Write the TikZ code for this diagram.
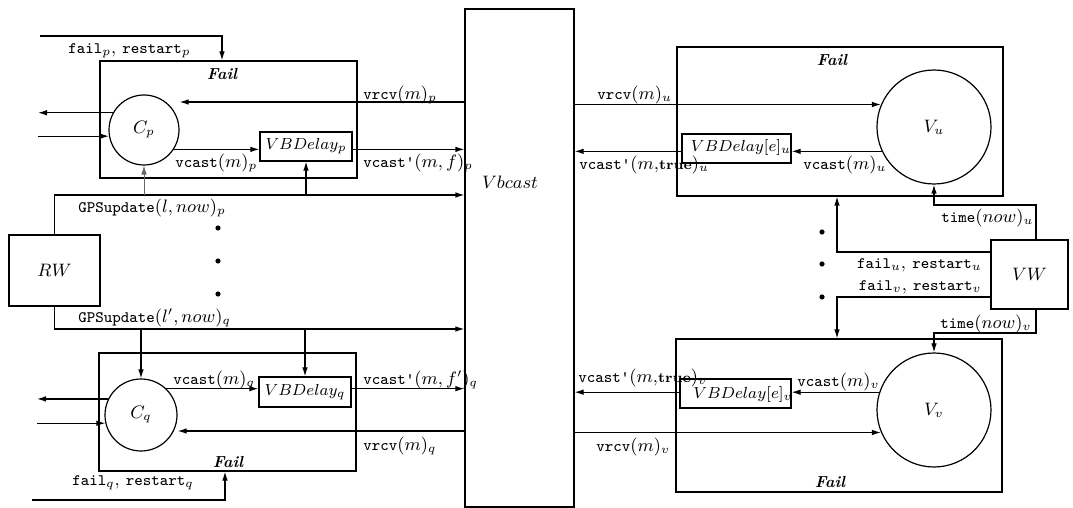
\documentclass[tikz,border=0pt]{standalone}
\usetikzlibrary{arrows.meta,fit,calc}
\newcommand\mytt[1]{{\fontsize{8}{10}\selectfont\ttfamily #1}}
\newcommand\mytrue{\textbf{\fontsize{7}{9}\selectfont true}}
\begin{document}
\begin{tikzpicture}[x=0.5pt,y=-0.5pt,
  every node/.style={font=\fontsize{9}{11}\selectfont, inner sep=0pt},
  ln/.style={line width=0.6pt},
  arr/.style={ln,-{Latex[length=4.5pt,width=2.8pt]}},
  thinarr/.style={arr,line width=0.4pt,black!60},
  boxn/.style={draw,ln,rectangle,inner sep=0pt},
  circn/.style={draw,ln,circle,inner sep=0pt},
  dotn/.style={circle,fill,minimum size=2.6pt},
  lab/.style={anchor=west},
  faillab/.style={font=\fontsize{8}{10}\selectfont\bfseries\itshape},
  elab/.style={font=\fontsize{8.3}{10}\selectfont}
]
\useasboundingbox (0,0) rectangle (1073,508);

% central broadcast box
\node[boxn, fit={(465,9) (574,507)}] (Vbcast) {};
\node (vbl) at (510,182) {$Vbcast$};

% left top
\node[boxn, fit={(100,61) (357,178)}] (Failp) {};
\node[faillab] (flp) at (222,74) {Fail};
\node[circn, minimum size=35pt] (Cp) at (144,130) {$C_p$};
\node[boxn, fit={(260,132) (352,161)}, label={[elab]center:{$VBDelay_p$}}] (VBp) {};

% RW
\node[boxn, fit={(9,235) (100,306)}, label=center:{$RW$}] (RW) {};

% left bottom
\node[boxn, fit={(99,353) (356,471)}] (Failq) {};
\node[faillab] (flq) at (228,462) {Fail};
\node[circn, minimum size=36pt] (Cq) at (141,415) {$C_q$};
\node[boxn, fit={(259,377) (351,407)}, label={[elab]center:{$VBDelay_q$}}] (VBq) {};

% right top
\node[boxn, fit={(677,47) (1003,196)}] (Failu) {};
\node[faillab] (flu) at (832,60) {Fail};
\node[circn, minimum size=57pt] (Vu) at (934,127) {$V_u$};
\node[boxn, fit={(682,134) (791,163)}] (VBu) {};
\node[elab] (VBul) at (741,148) {$VBDelay[e]_u$};

% right bottom
\node[boxn, fit={(676,339) (1002,492)}] (Failv) {};
\node[faillab] (flv) at (830,482) {Fail};
\node[circn, minimum size=57pt] (Vv) at (934,410) {$V_v$};
\node[boxn, fit={(680,379) (791,408)}] (VBv) {};
\node[elab] (VBvl) at (743,395) {$VBDelay[e]_v$};

% VW
\node[boxn, fit={(991,240) (1068,309)}, label=center:{$VW$}] (VW) {};

% free ends
\coordinate (fpin) at (40,36);
\coordinate (outp) at (38,113);
\coordinate (inp) at (38,136);
\coordinate (outq) at (37,399);
\coordinate (inq) at (37,423);
\coordinate (fqin) at (32,500);

% left top connectors
\draw[arr] (fpin) -| (Failp.north -| 222,0);
\draw[arr] (Vbcast.west |- 0,102) -- (Cp.east |- 0,102);
\draw[arr] (Cp.151) -- (Cp.151 -| outp);
\draw[arr] (inp |- Cp.190) -- (Cp.190);
\draw[arr] (Cp.-33) -- (Cp.-33 -| VBp.west);
\draw[arr] (VBp.east |- Cp.-33) -- (Cp.-33 -| Vbcast.west);
\draw[arr] (RW.north) |- (Vbcast.west |- 0,195);
\draw[thinarr] (Cp.south |- 0,195) -- (Cp.south);
\draw[arr] (VBp.south |- 0,195) -- (VBp.south);

% left bottom connectors
\draw[arr] (RW.south) |- (Vbcast.west |- 0,329);
\draw[arr] (Cq.north |- 0,329) -- (Cq.north);
\draw[arr] (VBq.north |- 0,329) -- (VBq.north);
\draw[arr] (Cq.46) -- (Cq.46 -| VBq.west);
\draw[arr] (VBq.east |- Cq.46) -- (Cq.46 -| Vbcast.west);
\draw[arr] (Cq.154) -- (Cq.154 -| outq);
\draw[arr] (inq |- Cq.193) -- (Cq.193);
\draw[arr] (Vbcast.west |- 0,431) -- (Cq.east |- 0,431);
\draw[arr] (fqin) -| (Failq.south -| 225,0);

% right connectors
\draw[arr] (Vbcast.east |- Vu.157) -- (Vu.157);
\draw[arr] (Vu.205) -- (Vu.205 -| VBu.east);
\draw[arr] (VBu.west |- Vu.205) -- (Vu.205 -| Vbcast.east);
\draw[arr] (VW.north -| 1036,0) -- (1036,205) -| (Vu.south);
\draw[arr] (VW.west |- 0,252) -| (Failu.south -| 837,0);
\draw[arr] (VW.west |- 0,297) -| (Failv.north -| 837,0);
\draw[arr] (VW.south -| 1036,0) -- (1036,333) -| (Vv.north);
\draw[arr] (Vv.162) -- (Vv.162 -| VBv.east);
\draw[arr] (VBv.west |- Vv.162) -- (Vv.162 -| Vbcast.east);
\draw[arr] (Vbcast.east |- Vv.203) -- (Vv.203);

% dots
\foreach \yy in {228,261,294} \node[dotn] (dl\yy) at (218,\yy) {};
\foreach \yy in {232,264,297} \node[dotn] (dr\yy) at (822,\yy) {};

% labels
\node[lab] (l1) at (68,51) {\mytt{fail}$_p$, \mytt{restart}$_p$};
\node[lab] (l2) at (363,95) {\mytt{vrcv}$(m)_p$};
\node[lab] (l3) at (175,163) {\mytt{vcast}$(m)_p$};
\node[lab] (l4) at (363,163) {\mytt{vcast\textquotesingle}$(m,f)_p$};
\node[lab] (l5) at (78,208) {\mytt{GPSupdate}$(l,now)_p$};
\node[lab] (l6) at (78,318) {\mytt{GPSupdate}$(l',now)_q$};
\node[lab] (l7) at (173,380) {\mytt{vcast}$(m)_q$};
\node[lab] (l8) at (363,380) {\mytt{vcast\textquotesingle}$(m,f')_q$};
\node[lab] (l9) at (363,446) {\mytt{vrcv}$(m)_q$};
\node[lab] (l10) at (72,483) {\mytt{fail}$_q$, \mytt{restart}$_q$};
\node[lab] (l11) at (597,95) {\mytt{vrcv}$(m)_u$};
\node[lab] (l12) at (579,165) {\mytt{vcast\textquotesingle}$(m,$\mytrue$)_u$};
\node[lab] (l13) at (803,165) {\mytt{vcast}$(m)_u$};
\node[lab] (l14) at (941,218) {\mytt{time}$(now)_u$};
\node[anchor=east] (l15) at (982,265) {\mytt{fail}$_u$, \mytt{restart}$_u$};
\node[anchor=east] (l16) at (982,287) {\mytt{fail}$_v$, \mytt{restart}$_v$};
\node[lab] (l17) at (940,324) {\mytt{time}$(now)_v$};
\node[lab] (l18) at (578,378) {\mytt{vcast\textquotesingle}$(m,$\mytrue$)_v$};
\node[lab] (l19) at (797,382) {\mytt{vcast}$(m)_v$};
\node[lab] (l20) at (596,447) {\mytt{vrcv}$(m)_v$};
\end{tikzpicture}
\end{document}
